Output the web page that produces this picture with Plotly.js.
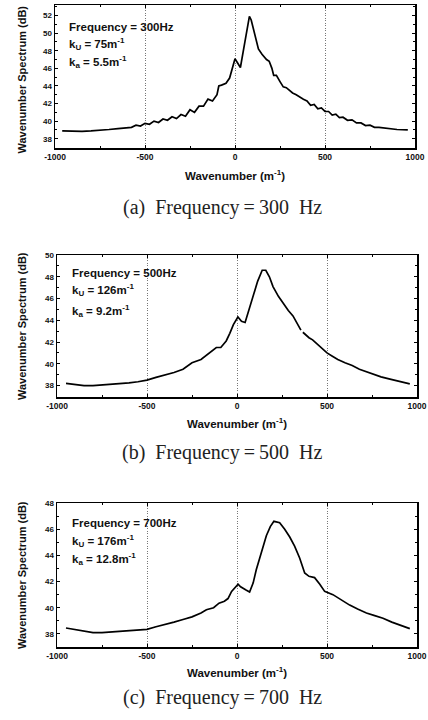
<!DOCTYPE html>
<html>
<head>
<meta charset="utf-8">
<script src="https://cdn.plot.ly/plotly-3.0.1.min.js"></script>
<style>html,body{margin:0;padding:0;background:#fff;}#chart{width:428px;height:720px;}</style>
</head>
<body>
<div id="chart"></div>
<script>
// ---- Data ----
const xA = [-960,-900,-850,-800,-750,-700,-650,-600,-575,-550,-525,-500,-475,-450,-425,-400,-375,-350,-325,-300,-275,-250,-225,-200,-175,-150,-125,-100,-90,-75,-50,-30,-15,0,12,30,55,80,90,100,115,130,150,175,190,205,215,230,250,268,285,300,320,340,360,380,400,420,440,460,480,500,520,540,560,580,600,625,650,675,700,725,750,775,800,850,900,960];
const yA = [38.9,38.85,38.85,38.9,38.95,39.05,39.15,39.3,39.3,39.55,39.45,39.75,39.65,40.0,39.85,40.25,40.1,40.5,40.3,40.75,40.55,41.3,41.0,41.7,41.7,42.5,42.3,43.0,44.0,44.1,44.3,44.9,46.0,47.1,46.7,46.1,49.0,51.9,51.5,50.6,49.2,48.2,47.6,47.0,46.8,46.0,45.2,45.2,44.5,43.9,43.8,43.5,43.2,43.0,42.7,42.5,42.3,41.8,41.9,41.4,41.5,41.1,41.1,40.7,40.8,40.4,40.45,40.1,40.15,39.8,39.8,39.5,39.55,39.3,39.3,39.15,39.05,39.0];

const xB = [-950,-900,-850,-800,-750,-700,-650,-600,-550,-500,-450,-400,-350,-300,-250,-200,-170,-140,-115,-90,-60,-40,-20,5,25,45,70,90,115,140,160,180,200,230,255,285,311,335,355,360,366,400,420,440,470,500,530,560,600,640,680,720,760,800,850,900,960];
const yB = [38.2,38.1,38.0,38.0,38.05,38.1,38.2,38.25,38.35,38.5,38.75,38.95,39.2,39.5,40.1,40.4,40.8,41.2,41.5,41.5,42.1,42.8,43.6,44.3,43.9,43.8,45.2,46.2,47.6,48.6,48.6,48.0,47.1,46.2,45.6,44.9,44.4,43.7,43.1,null,42.9,42.4,42.2,41.9,41.5,41.0,40.7,40.4,40.1,39.85,39.5,39.25,39.0,38.8,38.6,38.4,38.15];

const xC = [-950,-900,-850,-800,-750,-700,-650,-600,-550,-500,-450,-400,-350,-300,-250,-200,-170,-130,-100,-70,-50,-30,6,20,35,50,70,90,107,130,163,185,205,237,265,293,320,348,376,400,431,460,487,533,580,626,670,719,765,811,860,910,960];
const yC = [38.45,38.35,38.2,38.1,38.1,38.15,38.2,38.25,38.3,38.35,38.55,38.7,38.9,39.1,39.3,39.6,39.85,40.0,40.35,40.5,40.7,41.25,41.8,41.6,41.5,41.35,41.2,41.9,42.9,44.0,45.5,46.2,46.6,46.5,46.0,45.4,44.7,43.8,42.65,42.4,42.3,41.8,41.25,41.0,40.6,40.2,39.9,39.6,39.4,39.2,38.9,38.65,38.4];

const xTicks = [-1000,-500,0,500,1000];
const xTickText = ['-1000','-500','0','500','1000'];
const yTicksA = [38,40,42,44,46,48,50,52];
const yTicksB = [38,40,42,44,46,48,50];
const yTicksC = [38,40,42,44,46,48];

const frequencies = ['300','500','700'];
const kU = ['75','126','176'];
const kA = ['5.5','9.2','12.8'];
const panelLetters = ['(a)','(b)','(c)'];

// ---- Layout geometry (pixels) ----
const W = 428, H = 720;
const panels = [
  {l:55, r:415, t:5,   b:148, yr:[36.95,53.2], yt:yTicksA},
  {l:57, r:417, t:255, b:397, yr:[36.95,50],   yt:yTicksB},
  {l:57, r:417, t:503, b:647, yr:[37.0,48],    yt:yTicksC}
];
const textTops = [[27,44,62],[273,290,311],[523,541,559]];
const textLeft = [67,70,70];
const captionY = [208,452,697];
const xTitleY = [175,423,672];

const sansBold = (s)=>({family:'Liberation Sans, Arial, sans-serif', size:s, color:'#111', weight:'bold'});

const data = [];
const layout = {
  width: W, height: H,
  margin:{l:0,r:0,t:0,b:0},
  paper_bgcolor:'#fff', plot_bgcolor:'#fff',
  showlegend:false,
  annotations:[]
};

const xs = [xA,xB,xC], ys = [yA,yB,yC];
panels.forEach((p,i)=>{
  const n = i+1;
  const sfx = (n===1?'':String(n));
  data.push({x:xs[i], y:ys[i], type:'scatter', mode:'lines',
    xaxis:'x'+sfx, yaxis:'y'+sfx,
    line:{color:'#000', width:1.7}, connectgaps:false, hoverinfo:'skip'});
  layout['xaxis'+sfx] = {
    domain:[p.l/W, p.r/W], range:[-1000,1000],
    anchor:'y'+sfx,
    tickvals:xTicks, ticktext:xTickText,
    ticks:'inside', ticklen:3, tickwidth:1, tickcolor:'#000',
    minor:{dtick:250, tick0:0, ticks:'inside', ticklen:2, tickcolor:'#000'},
    showline:true, linecolor:'#000', linewidth:1.5, mirror:'allticks',
    showgrid:true, gridcolor:'#777', griddash:'1px,1.5px', gridwidth:1,
    zeroline:false, tickfont:sansBold(8.5), fixedrange:true
  };
  layout['yaxis'+sfx] = {
    domain:[1-p.b/H, 1-p.t/H], range:p.yr,
    anchor:'x'+sfx,
    tickvals:p.yt,
    ticks:'inside', ticklen:3, tickwidth:1, tickcolor:'#000',
    minor:{dtick:1, ticks:'inside', ticklen:2, tickcolor:'#000'},
    showline:true, linecolor:'#000', linewidth:1.5, mirror:'allticks',
    showgrid:false, zeroline:false, tickfont:sansBold(8),
    fixedrange:true
  };
  layout.annotations.push({xref:'paper', yref:'paper', x:22/W, y:1-((p.t+p.b)/2 + (i===0?3:0))/H,
    text:'Wavenumber Spectrum (dB)', textangle:-90, showarrow:false,
    xanchor:'center', yanchor:'middle', font:sansBold(11)});
  layout.annotations.push({xref:'paper', yref:'paper', x:((p.l+p.r)/2)/W, y:1-xTitleY[i]/H,
    text:'Wavenumber (m<sup>-1</sup>)', showarrow:false, xanchor:'center', yanchor:'middle',
    font:sansBold(11.5)});
  const lines = ['Frequency = '+frequencies[i]+'Hz',
                 'k<sub>U</sub> = '+kU[i]+'m<sup>-1</sup>',
                 'k<sub>a</sub> = '+kA[i]+'m<sup>-1</sup>'];
  lines.forEach((t,j)=>{
    layout.annotations.push({xref:'paper', yref:'paper', x:textLeft[i]/W, y:1-textTops[i][j]/H,
      text:t, showarrow:false, xanchor:'left', yanchor:'middle', font:sansBold(11.5)});
  });
  layout.annotations.push({xref:'paper', yref:'paper', x:222/W, y:1-captionY[i]/H,
    text:panelLetters[i]+'\u00a0\u00a0Frequency\u2009=\u2009' + frequencies[i] + '\u00a0\u00a0Hz', showarrow:false,
    xanchor:'center', yanchor:'middle',
    font:{family:'Liberation Serif, DejaVu Serif, serif', size:20, color:'#222'}});
});

Plotly.newPlot('chart', data, layout, {staticPlot:true, displayModeBar:false});
</script>
</body>
</html>
